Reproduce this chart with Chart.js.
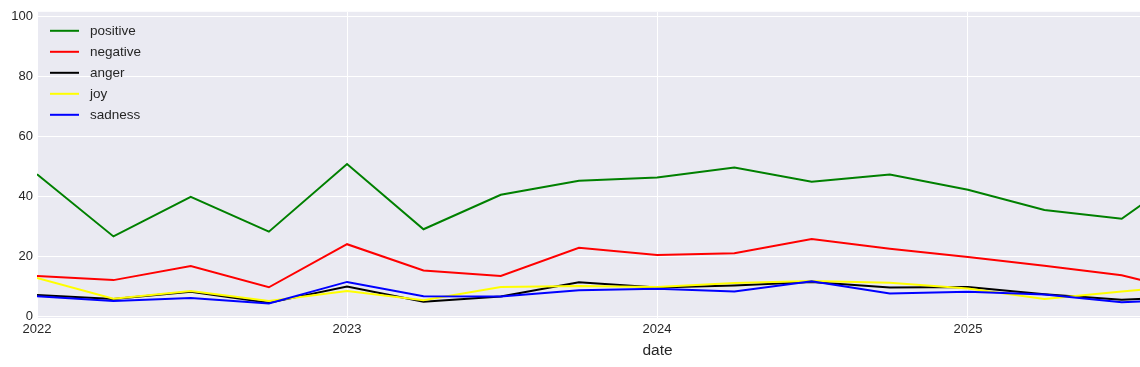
<!DOCTYPE html>
<html>
<head>
<meta charset="utf-8">
<script src="https://cdn.jsdelivr.net/npm/chart.js@4"></script>
<style>
  html, body { margin: 0; padding: 0; overflow: hidden; background: #fff; }
  #wrap { width: 1278px; height: 367px; }
</style>
</head>
<body>
<div id="wrap"><canvas id="sentimentChart" width="1278" height="367"></canvas></div>
<script>
// quarterly dates (the last one falls outside the cropped view)
const dates = [
  "2022-01-01", "2022-04-01", "2022-07-01", "2022-10-01",
  "2023-01-01", "2023-04-01", "2023-07-01", "2023-10-01",
  "2024-01-01", "2024-04-01", "2024-07-01", "2024-10-01",
  "2025-01-01", "2025-04-01", "2025-07-01", "2025-10-01",
];

const positive = [47.4, 26.6, 39.8, 28.2, 50.8, 29.0, 40.5, 45.2, 46.3, 49.6, 44.9, 47.3, 42.2, 35.4, 32.5, 51.0];
const negative = [13.4, 12.0, 16.7, 9.6, 24.0, 15.2, 13.4, 22.8, 20.4, 21.0, 25.7, 22.5, 19.7, 16.8, 13.6, 7.2];
const anger    = [7.0, 5.7, 8.1, 4.4, 9.9, 4.8, 6.5, 11.3, 9.5, 10.2, 11.4, 9.5, 9.7, 7.3, 5.4, 6.6];
const joy      = [12.7, 5.8, 8.4, 5.0, 8.4, 5.3, 9.7, 10.0, 9.7, 11.0, 11.7, 11.1, 9.2, 5.7, 8.2, 10.5];
const sadness  = [6.6, 5.0, 6.0, 4.2, 11.4, 6.6, 6.5, 8.6, 9.1, 8.2, 11.6, 7.5, 8.1, 7.2, 4.6, 5.7];

const xTickYears = [2022, 2023, 2024, 2025];
const xTickLabels = ["2022", "2023", "2024", "2025"];
const yTicks = [0, 20, 40, 60, 80, 100];

const seriesNames = ["positive", "negative", "anger", "joy", "sadness"];
const seriesValues = [positive, negative, anger, joy, sadness];
const seriesColors = ["#008000", "#ff0000", "#000000", "#ffff00", "#0000ff"];

const TEXT = "#262626";
Chart.defaults.font.family = '"Liberation Sans", Arial, sans-serif';
Chart.defaults.color = TEXT;

function $(id) {
  return document.getElementById(id);
}

const xs = dates.map((d) => Date.parse(d + "T00:00:00Z"));

// grey panel like the seaborn darkgrid style
const panelBg = {
  id: "panelBg",
  beforeDraw(chart) {
    const { ctx, chartArea: a } = chart;
    ctx.save();
    ctx.fillStyle = "#ffffff";
    ctx.fillRect(0, 0, chart.width, chart.height);
    ctx.fillStyle = "#eaeaf2";
    ctx.fillRect(a.left, a.top, a.right - a.left, a.bottom - a.top);
    ctx.restore();
  },
};

// legend in the upper left corner, no frame
const innerLegend = {
  id: "innerLegend",
  afterDraw(chart) {
    const { ctx, chartArea: a } = chart;
    ctx.save();
    ctx.font = '13.5px "Liberation Sans", Arial, sans-serif';
    ctx.textBaseline = "middle";
    chart.data.datasets.forEach((ds, i) => {
      const y = a.top + 19 + i * 21;
      ctx.strokeStyle = ds.borderColor;
      ctx.lineWidth = 2;
      ctx.beginPath();
      ctx.moveTo(a.left + 13, y);
      ctx.lineTo(a.left + 42, y);
      ctx.stroke();
      ctx.fillStyle = TEXT;
      ctx.fillText(ds.label, a.left + 53, y);
    });
    ctx.restore();
  },
};

const datasets = seriesNames.map((name, i) => ({
  label: name,
  data: seriesValues[i].map((v, j) => ({ x: xs[j], y: v })),
  borderColor: seriesColors[i],
  backgroundColor: seriesColors[i],
  borderWidth: 2,
  pointRadius: 0,
  tension: 0,
  fill: false,
  order: seriesNames.length - 1 - i, // later series on top
}));

new Chart($("sentimentChart"), {
  type: "line",
  data: { datasets: datasets },
  options: {
    responsive: false,
    animation: false,
    layout: { padding: { top: 10, left: 0, right: 0, bottom: 0 } },
    plugins: {
      legend: { display: false },
      tooltip: { enabled: false },
    },
    scales: {
      x: {
        type: "linear",
        min: Date.UTC(2022, 0, 1),
        max: Date.UTC(2026, 0, 1),
        afterBuildTicks: (scale) => {
          scale.ticks = xTickYears.map((y) => ({ value: Date.UTC(y, 0, 1) }));
        },
        afterFit: (scale) => {
          scale.height = 49;
        },
        ticks: {
          autoSkip: false,
          maxRotation: 0,
          padding: 4,
          font: { size: 13 },
          callback: (v, idx) => xTickLabels[idx],
        },
        grid: { color: "#ffffff", lineWidth: 1, drawTicks: false },
        border: { display: false },
        title: {
          display: true,
          text: "date",
          font: { size: 15.5 },
          padding: { top: 0, bottom: 7 },
        },
      },
      y: {
        min: -0.66,
        max: 101.66,
        afterBuildTicks: (scale) => {
          scale.ticks = yTicks.map((v) => ({ value: v }));
        },
        afterFit: (scale) => {
          scale.width = 37;
        },
        ticks: {
          padding: 4,
          font: { size: 13 },
        },
        grid: { color: "#ffffff", lineWidth: 1, drawTicks: false },
        border: { display: false },
      },
    },
  },
  plugins: [panelBg, innerLegend],
});
</script>
</body>
</html>
